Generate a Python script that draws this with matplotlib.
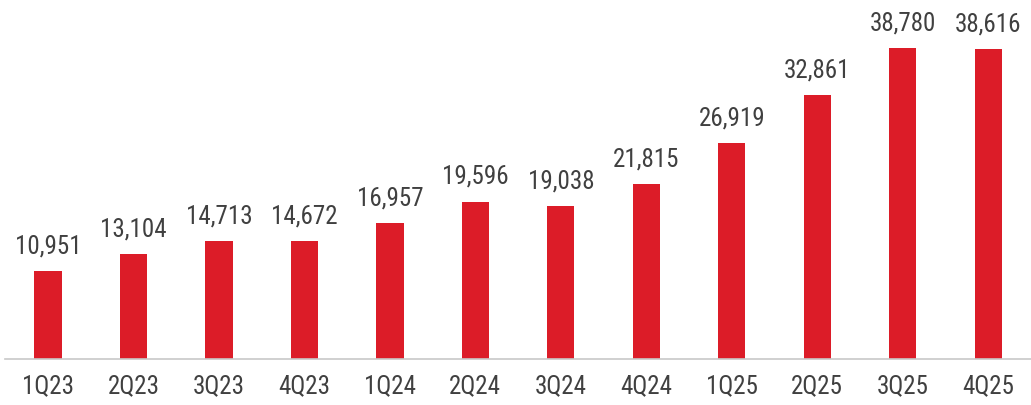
import matplotlib.pyplot as plt

# Quarterly values
quarters = ['1Q23', '2Q23', '3Q23', '4Q23', '1Q24', '2Q24', '3Q24', '4Q24',
            '1Q25', '2Q25', '3Q25', '4Q25']
values = [10951, 13104, 14713, 14672, 16957, 19596, 19038, 21815,
          26919, 32861, 38780, 38616]

plt.rcParams['font.family'] = ['Roboto Condensed', 'DejaVu Sans']

fig = plt.figure(figsize=(10.31, 4.06), dpi=100)
ax = fig.add_axes([0.005, 0.1133, 0.995, 0.8867])

x = range(len(quarters))
bars = ax.bar(x, values, width=0.32, color='#DC1C28')

for b, v in zip(bars, values):
    ax.annotate(f'{v:,}', (b.get_x() + b.get_width() / 2, v),
                xytext=(0, 10), textcoords='offset points',
                ha='center', va='bottom', fontsize=18, color='#404040')

ax.set_xlim(-0.5, len(quarters) - 0.5)
ax.set_ylim(0, 44890)
ax.set_xticks(list(x))
ax.set_xticklabels(quarters, fontsize=18, color='#404040')
ax.tick_params(axis='x', length=0, pad=10)
ax.set_yticks([])

for s in ['top', 'right', 'left']:
    ax.spines[s].set_visible(False)
ax.spines['bottom'].set_color('#C8C8C8')
ax.spines['bottom'].set_linewidth(1.2)

fig.savefig('out.png', dpi=100)
